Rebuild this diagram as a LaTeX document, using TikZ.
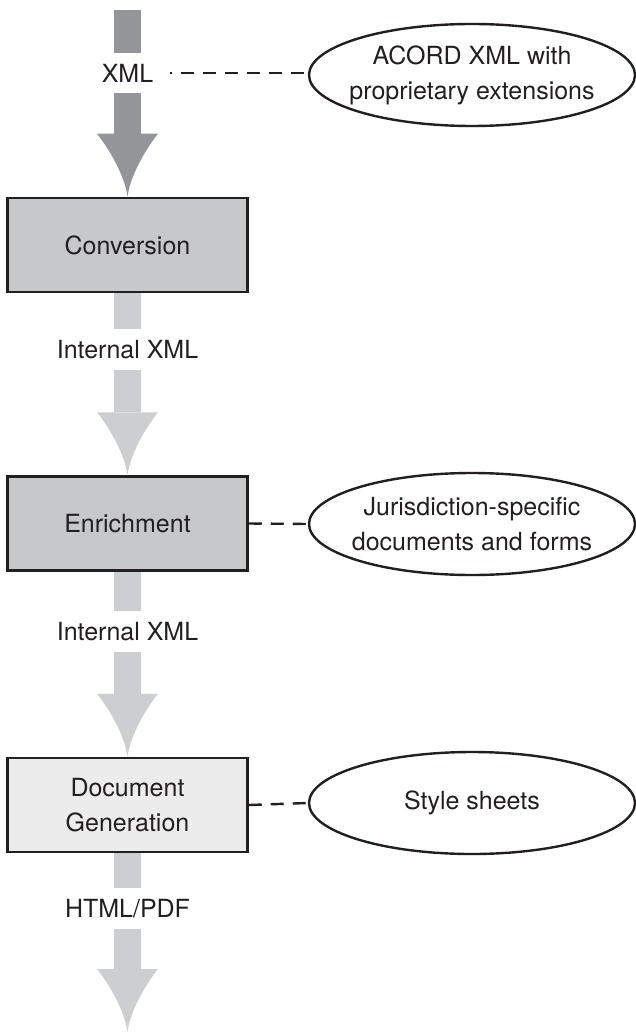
\documentclass[tikz,border=0pt]{standalone}
\usepackage{fontspec}
\setmainfont{TeX Gyre Heros}
\usetikzlibrary{calc,shapes.geometric}

\definecolor{ink}{HTML}{231F20}
\definecolor{darkpipe}{HTML}{939598}
\definecolor{lightpipe}{HTML}{CDCECF}
\definecolor{stagefill}{HTML}{C7C8CA}
\definecolor{docfill}{HTML}{EBECEB}

\tikzset{
  every node/.style={font=\fontsize{25}{35}\selectfont, text=ink},
  stage/.style={draw=ink, line width=2.5pt, minimum width=240pt, minimum height=94pt, inner sep=0pt, align=center},
  source/.style={ellipse, draw=ink, line width=2.4pt, minimum width=326pt, minimum height=102pt, inner sep=0pt},
  flowlabel/.style={minimum height=40pt, inner sep=0pt},
  link/.style={draw=ink, line width=2.4pt, dash pattern=on 13pt off 9pt}
}

% straight piece of the flow pipe
\newcommand{\shaftseg}[3]{\fill[#1] ($(#2)+(-13.5,0)$) rectangle ($(#3)+(13.5,0)$);}
% last piece of the pipe, with its head
\newcommand{\headseg}[3]{%
  \fill[#1] ($(#2)+(-13.5,0)$) rectangle ($(#3)+(13.5,-63)$);
  \fill[#1] ($(#3)+(-30.5,-63)$) -- ($(#3)+(30.5,-63)$)
    .. controls ($(#3)+(17,-46)$) and ($(#3)+(2.5,-20)$) .. (#3)
    .. controls ($(#3)+(-2.5,-20)$) and ($(#3)+(-17,-46)$) .. cycle;}

\begin{document}
\begin{tikzpicture}[x=1pt,y=-1pt]
\useasboundingbox (0,0) rectangle (636,1032);

% Stages
\node[stage, fill=stagefill] (conv) at (127.5,245) {Conversion};
\node[stage, fill=stagefill] (enr) at (127.5,523.5) {Enrichment};
\node[stage, fill=docfill] (doc) at (127.5,805) {Document\\Generation};

% Flow labels
\node[flowlabel] (lxml) at (127.5,73) {XML};
\node[flowlabel] (lint1) at (127.5,349.5) {Internal XML};
\node[flowlabel] (lint2) at (127.5,631.5) {Internal XML};
\node[flowlabel] (lout) at (127.5,908.5) {HTML/PDF};

\coordinate (src) at (127.5,10);
\coordinate (sink) at (127.5,1032);

% Inputs
\node[source, label={[align=center]center:ACORD XML with\\proprietary extensions}] (e1) at (472,75) {};
\node[source, label={[align=center]center:Jurisdiction-specific\\documents and forms}] (e2) at (472,524) {};
\node[source, label={center:Style sheets}] (e3) at (472,803) {};

% Pipe
\shaftseg{darkpipe}{src}{lxml.north}
\headseg{darkpipe}{lxml.south}{conv.north}
\shaftseg{lightpipe}{conv.south}{lint1.north}
\headseg{lightpipe}{lint1.south}{enr.north}
\shaftseg{lightpipe}{enr.south}{lint2.north}
\headseg{lightpipe}{lint2.south}{doc.north}
\shaftseg{lightpipe}{doc.south}{lout.north}
\headseg{lightpipe}{lout.south}{sink}

% Dashed links
\draw[link, dash phase=11pt] ($(lxml.east)+(17,0)$) -- (lxml.east -| e1.west);
\draw[link] (enr.east) -- (e2.west);
\draw[link] (doc.east) -- (e3.west);
\end{tikzpicture}
\end{document}
